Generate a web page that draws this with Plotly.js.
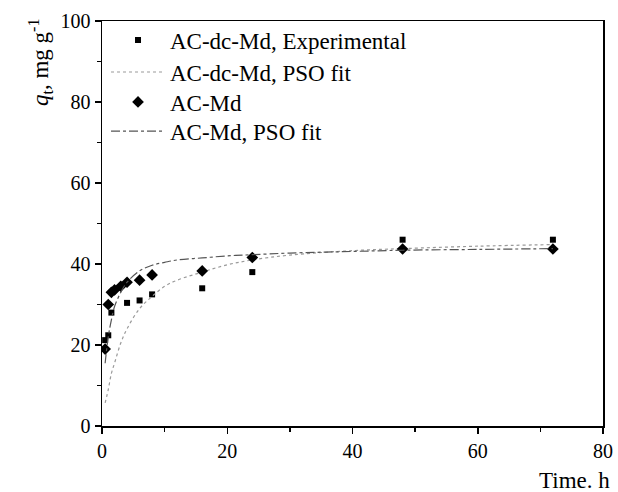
<!DOCTYPE html>
<html>
<head>
<meta charset="utf-8">
<script src="https://cdn.plot.ly/plotly-3.0.1.min.js"></script>
<style>html,body{margin:0;padding:0;background:#fff;}#chart{width:618px;height:492px;}</style>
</head>
<body>
<div id="chart"></div>
<script>
// AC-dc-Md experimental
const dcTime = [0.5, 1, 1.5, 4, 6, 8, 16, 24, 48, 72];
const dcQ = [21.2, 22.4, 28, 30.4, 31, 32.5, 34, 38, 46, 46];
// AC-Md experimental
const mdTime = [0.5, 1, 1.5, 2, 3, 4, 6, 8, 16, 24, 48, 72];
const mdQ = [19, 30, 33, 33.6, 34.5, 35.5, 36, 37.3, 38.3, 41.6, 43.7, 43.7];
// PSO fit curves
const fitTime = [0.5, 1, 1.5, 2, 3, 4, 6, 8, 10, 12, 16, 20, 24, 30, 40, 48, 60, 72];
const dcFit = [5.7, 9, 13, 15.5, 20.5, 24, 29, 32, 34.5, 36, 38, 39.8, 41, 42.2, 43.3, 43.8, 44.4, 44.8];
const mdFit = [15.5, 22, 26.2, 29.5, 33, 35.5, 38.3, 39.7, 40.4, 41, 41.5, 42, 42.3, 42.7, 43.1, 43.4, 43.6, 43.8];
const names = ["AC-dc-Md, Experimental", "AC-dc-Md, PSO fit", "AC-Md", "AC-Md, PSO fit"];

const FAM = '"Liberation Serif", "Times New Roman", Times, serif';
const font = (s) => ({family: FAM, size: s, color: "#000"});
const traces = [
  {x: dcTime, y: dcQ, name: names[0], mode: "markers", type: "scatter", legend: "legend",
   marker: {symbol: "square", size: 6, color: "#000"}},
  {x: fitTime, y: dcFit, name: names[1], mode: "lines", type: "scatter", legend: "legend2",
   line: {color: "#9a9a9a", width: 1.2, dash: "dot", shape: "spline"}},
  {x: mdTime, y: mdQ, name: names[2], mode: "markers", type: "scatter", legend: "legend3",
   marker: {symbol: "diamond", size: 9, color: "#000"}},
  {x: fitTime, y: mdFit, name: names[3], mode: "lines", type: "scatter", legend: "legend4",
   line: {color: "#555", width: 1.2, dash: "dashdot", shape: "spline"}}
];
const axisCommon = {
  showgrid: false, zeroline: false, showline: true, linecolor: "#000", linewidth: 1.5,
  mirror: true, ticks: "outside", ticklen: 6, tickwidth: 1.5, tickcolor: "#000",
  tickfont: font(20),
  minor: {ticks: "outside", ticklen: 4, tickwidth: 1.5, tickcolor: "#000", dtick: 10}
};
const leg = (y) => ({x: 0.008, y: y, xanchor: "left", yanchor: "middle", bgcolor: "rgba(0,0,0,0)",
                     font: font(23), itemwidth: 54});
const layout = {
  width: 618, height: 492,
  margin: {l: 102, r: 15, t: 21, b: 66},
  paper_bgcolor: "#fff", plot_bgcolor: "#fff",
  font: {family: FAM},
  showlegend: true,
  legend: leg(0.953), legend2: leg(0.874), legend3: leg(0.8), legend4: leg(0.728),
  xaxis: Object.assign({}, axisCommon, {range: [0, 80], dtick: 20, tick0: 0}),
  yaxis: Object.assign({}, axisCommon, {range: [0, 100], dtick: 20, tick0: 0}),
  annotations: [
    {text: "Time. h", xref: "paper", yref: "paper", x: 1.018, y: -0.17,
     xanchor: "right", yanchor: "bottom", showarrow: false, font: font(23)},
    {text: "<i>q</i><sub>t</sub>, mg g<sup>-1</sup>", xref: "paper", yref: "paper",
     x: -0.124, y: 1.012, xanchor: "center", yanchor: "top", textangle: -90, showarrow: false,
     font: font(23)}
  ]
};
Plotly.newPlot("chart", traces, layout, {displayModeBar: false, staticPlot: true});
</script>
</body>
</html>
